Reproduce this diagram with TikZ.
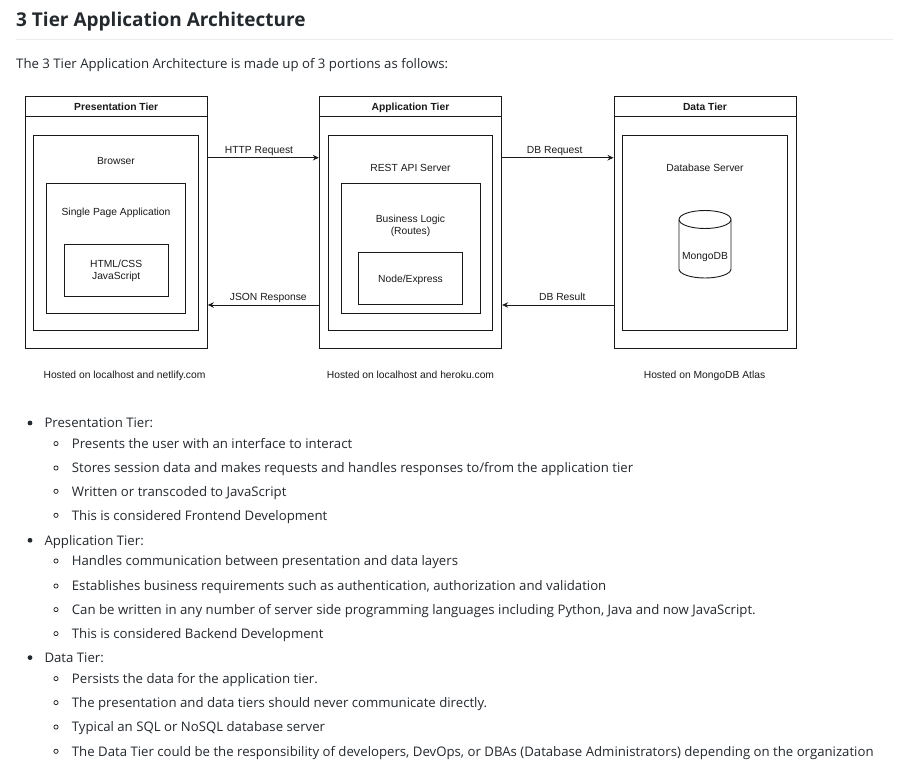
\documentclass[tikz,border=0pt]{standalone}
\usepackage{fontspec}
\setmainfont{Open Sans}
\newfontfamily\diafont{Liberation Sans}
\usetikzlibrary{arrows.meta}
\definecolor{ink}{HTML}{24292E}
\definecolor{rulegray}{HTML}{EAECEF}
\definecolor{dline}{HTML}{1A1A1A}
\begin{document}
\begin{tikzpicture}[x=1pt,y=-1pt,
  box/.style={draw=dline, line width=0.9pt, inner sep=0pt, fill=none},
  dtext/.style={font=\diafont\fontsize{10.3}{12}\selectfont, text=dline, inner sep=0pt, anchor=base},
  mtext/.style={font=\diafont\fontsize{10.3}{12}\selectfont, text=dline, inner sep=0pt, anchor=center, align=center},
  hdr/.style={dtext, font=\diafont\bfseries\fontsize{10.3}{12}\selectfont},
  arr/.style={draw=dline, line width=0.9pt, -{Stealth[length=6pt,width=5.5pt]}},
  body/.style={font=\fontsize{13.2}{16}\selectfont, text=ink, anchor=base west, inner sep=0pt},
  dot/.style={circle, fill=ink, inner sep=0pt, minimum size=4.8pt},
  odot/.style={circle, draw=ink, line width=0.8pt, inner sep=0pt, minimum size=4.2pt}]
\useasboundingbox (0,0) rectangle (914,771);
\fill[white] (0,0) rectangle (914,771);

% heading
\node[font=\bfseries\fontsize{19}{22}\selectfont, text=ink, anchor=base west, inner sep=0pt] (title) at (16,26.7) {3 Tier Application Architecture};
\coordinate (ruleL) at (16,39.3);
\coordinate (ruleR) at (893,39.3);
\draw[rulegray, line width=1pt] (ruleL) -- (ruleR);
\node[body] (intro) at (16,68.3) {The 3 Tier Application Architecture is made up of 3 portions as follows:};

% ---- Presentation tier
\node[box, minimum width=182.3pt, minimum height=251.6pt] (pres) at (116.2,222.5) {};
\draw[dline, line width=0.9pt] (pres.north west |- 0,116.7) -- (pres.north east |- 0,116.7);
\node[hdr] (presh) at (116.2,110.8) {Presentation Tier};
\node[box, minimum width=165.4pt, minimum height=194.3pt] (browser) at (116,232.85) {};
\node[dtext] (browsert) at (116,164.3) {Browser};
\node[box, minimum width=138.6pt, minimum height=130pt] (spa) at (116,248.3) {};
\node[dtext] (spat) at (116,215.8) {Single Page Application};
\node[box, minimum width=104.3pt, minimum height=51.7pt] (html) at (116.15,270.15) {};
\node[mtext, font=\diafont\fontsize{10.3}{11.4}\selectfont] (htmlt) at (116.15,271) {HTML/CSS\\JavaScript};

% ---- Application tier
\node[box, minimum width=182.4pt, minimum height=251.6pt] (app) at (410.5,222.5) {};
\draw[dline, line width=0.9pt] (app.north west |- 0,116.7) -- (app.north east |- 0,116.7);
\node[hdr] (apph) at (410.5,110.8) {Application Tier};
\node[box, minimum width=164.4pt, minimum height=194.3pt] (rest) at (410.5,232.85) {};
\node[dtext] (restt) at (410.5,171.2) {REST API Server};
\node[box, minimum width=139pt, minimum height=130pt] (bl) at (410.5,248.3) {};
\node[mtext, font=\diafont\fontsize{10.3}{12.4}\selectfont] (blt) at (410.5,225.6) {Business Logic\\(Routes)};
\node[box, minimum width=104.4pt, minimum height=51.6pt] (nodex) at (410.5,278.5) {};
\node[dtext] (nodext) at (410.5,282.5) {Node/Express};

% ---- Data tier
\node[box, minimum width=182pt, minimum height=251.6pt] (data) at (705,222.5) {};
\draw[dline, line width=0.9pt] (data.north west |- 0,116.7) -- (data.north east |- 0,116.7);
\node[hdr] (datah) at (705,110.8) {Data Tier};
\node[box, minimum width=165.4pt, minimum height=195pt] (dbs) at (705,233.2) {};
\node[dtext] (dbst) at (705,171.2) {Database Server};
% cylinder
\draw[dline, line width=0.9pt] (679,219.5) -- (679,269) arc[start angle=180, end angle=360, x radius=26pt, y radius=9pt] -- (731,219.5);
\draw[dline, line width=0.9pt] (705,219.5) ellipse[x radius=26pt, y radius=9pt];
\node[dtext] (mongo) at (705,259.5) {MongoDB};

% ---- connectors
\coordinate (yreq) at (0,157.7);
\coordinate (yres) at (0,305);
\draw[arr] (pres.east |- yreq) -- (app.west |- yreq);
\draw[arr] (app.west |- yres) -- (pres.east |- yres);
\draw[arr] (app.east |- yreq) -- (data.west |- yreq);
\draw[arr] (data.west |- yres) -- (app.east |- yres);
\node[dtext] (httpl) at (259,153.5) {HTTP Request};
\node[dtext] (jsonl) at (268.3,300.2) {JSON Response};
\node[dtext] (dbreql) at (554.7,153.5) {DB Request};
\node[dtext] (dbresl) at (562.3,300.2) {DB Result};

% hosted
\node[dtext] (host1) at (124.5,378.5) {Hosted on localhost and netlify.com};
\node[dtext] (host2) at (410.5,378.5) {Hosted on localhost and heroku.com};
\node[dtext] (host3) at (704.5,378.5) {Hosted on MongoDB Atlas};

% ---- list
\node[dot] (d1) at (30,423) {};
\node[body] (l1) at (44.3,427.7) {Presentation Tier:};
\node[odot] (s11) at (56,443.6) {};
\node[body] (t11) at (71.7,448.3) {Presents the user with an interface to interact};
\node[odot] (s12) at (56,468) {};
\node[body] (t12) at (71.7,472.7) {Stores session data and makes requests and handles responses to/from the application tier};
\node[odot] (s13) at (56,491.3) {};
\node[body] (t13) at (71.7,496) {Written or transcoded to JavaScript};
\node[odot] (s14) at (56,515.3) {};
\node[body] (t14) at (71.7,520) {This is considered Frontend Development};

\node[dot] (d2) at (30,540.3) {};
\node[body] (l2) at (44.3,545) {Application Tier:};
\node[odot] (s21) at (56,561) {};
\node[body] (t21) at (71.7,565.7) {Handles communication between presentation and data layers};
\node[odot] (s22) at (56,586) {};
\node[body] (t22) at (71.7,590.7) {Establishes business requirements such as authentication, authorization and validation};
\node[odot] (s23) at (56,609.6) {};
\node[body] (t23) at (71.7,614.3) {Can be written in any number of server side programming languages including Python, Java and now JavaScript.};
\node[odot] (s24) at (56,633.6) {};
\node[body] (t24) at (71.7,638.3) {This is considered Backend Development};

\node[dot] (d3) at (30,657.6) {};
\node[body] (l3) at (44.3,662.3) {Data Tier:};
\node[odot] (s31) at (56,678.6) {};
\node[body] (t31) at (71.7,683.3) {Persists the data for the application tier.};
\node[odot] (s32) at (56,702.6) {};
\node[body] (t32) at (71.7,707.3) {The presentation and data tiers should never communicate directly.};
\node[odot] (s33) at (56,727) {};
\node[body] (t33) at (71.7,731.7) {Typical an SQL or NoSQL database server};
\node[odot] (s34) at (56,751.3) {};
\node[body] (t34) at (71.7,756) {The Data Tier could be the responsibility of developers, DevOps, or DBAs (Database Administrators) depending on the organization};
\end{tikzpicture}
\end{document}
